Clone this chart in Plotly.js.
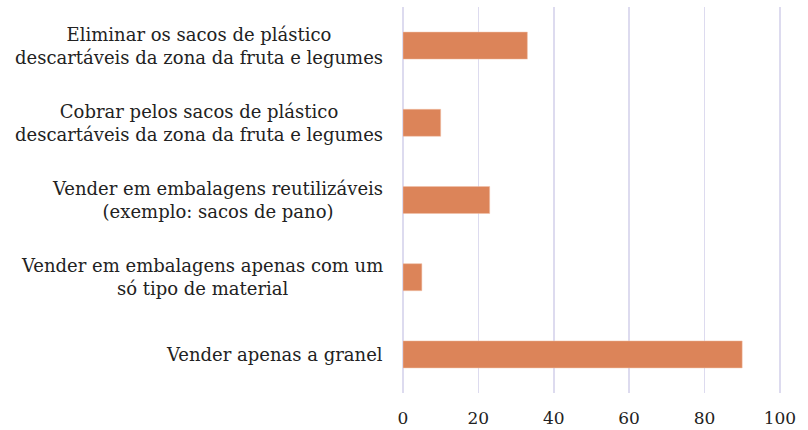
<!DOCTYPE html>
<html>
<head>
<meta charset="utf-8">
<script src="https://cdn.plot.ly/plotly-3.0.1.min.js"></script>
<style>html,body{margin:0;padding:0;background:#fff;}#chart{width:808px;height:430px;}</style>
</head>
<body>
<div id="chart"></div>
<script>
var categories = [
  "Eliminar os sacos de plástico<br>descartáveis da zona da fruta e legumes",
  "Cobrar pelos sacos de plástico<br>descartáveis da zona da fruta e legumes",
  "Vender em embalagens reutilizáveis<br>(exemplo: sacos de pano)",
  "Vender em embalagens apenas com um<br>só tipo de material",
  "Vender apenas a granel"
];
var values = [33, 10, 23, 5, 90];
var tickValues = [0, 20, 40, 60, 80, 100];

var fontFam = "DejaVu Serif, Liberation Serif, serif";
var trace = {
  type: "bar",
  orientation: "h",
  y: categories,
  x: values,
  marker: {color: "#dc8459", line: {color: "#f0c0a8", width: 0.5}},
  hoverinfo: "none"
};
var annotations = categories.map(function(c){
  return {
    xref: "paper", yref: "y", x: 0, y: c, xanchor: "right", yanchor: "middle",
    xshift: -18, text: c, showarrow: false, align: "center",
    font: {family: fontFam, size: 18, color: "#222222"}
  };
});
var layout = {
  width: 808, height: 430,
  margin: {l: 403, r: 27, t: 7, b: 37},
  paper_bgcolor: "#ffffff", plot_bgcolor: "#ffffff",
  showlegend: false,
  bargap: 0.65,
  xaxis: {
    range: [0, 100.3], tickvals: tickValues, ticktext: tickValues.map(String),
    showgrid: true, gridcolor: "#dddbef", gridwidth: 1.5,
    zeroline: true, zerolinecolor: "#dddbef", zerolinewidth: 1.5,
    showline: false, ticks: "",
    tickfont: {family: fontFam, size: 17, color: "#222222"},
    ticklabelstandoff: 13, fixedrange: true
  },
  yaxis: {
    type: "category", autorange: "reversed", showticklabels: false,
    showgrid: false, zeroline: false, showline: false, ticks: "", fixedrange: true
  },
  annotations: annotations
};
Plotly.newPlot("chart", [trace], layout, {displayModeBar: false, staticPlot: true});
</script>
</body>
</html>
